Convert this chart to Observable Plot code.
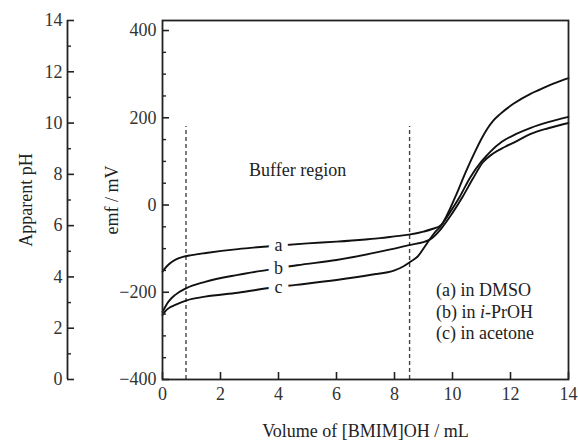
<!DOCTYPE html>
<html><head><meta charset="utf-8">
<script src="https://cdn.jsdelivr.net/npm/d3@7"></script>
<script src="https://cdn.jsdelivr.net/npm/@observablehq/plot@0.6"></script>
<style>body{margin:0;background:#fff} svg{font-family:"Liberation Serif",serif}</style>
</head><body><div id="chart"></div>
<script>
// Series (a) in DMSO
const aVol = [0, 0.1, 0.25, 0.45, 0.7, 1.0, 1.5, 2.6, 3.8, 5, 6, 7, 7.5, 8, 8.5, 9, 9.3, 9.6, 9.9, 10.25, 10.6, 11.0, 11.3, 11.7, 12.2, 12.7, 13.3, 14];
const aEmf = [-153, -144, -134, -125, -119, -115, -110, -101, -94, -88, -84, -79, -76, -72, -68, -61, -55, -46, -18, 19, 62, 100, 122, 145, 163, 177, 190, 202];
// Series (b) in i-PrOH
const bVol = [0, 0.2, 0.44, 0.81, 1.47, 2.6, 3.8, 4.64, 6, 7.5, 8.5, 9.2, 9.6, 10.0, 10.35, 10.7, 11.05, 11.4, 11.8, 12.2, 12.7, 13.3, 14];
const bEmf = [-245, -222, -206, -191, -176, -160, -147, -138, -126, -107, -92, -80, -55, -18, 19, 60, 98, 118, 133, 146, 163, 176, 188];
// Series (c) in acetone
const cVol = [0, 0.1, 0.25, 0.44, 0.81, 1.47, 2.6, 3.8, 4.6, 6, 7.2, 8.0, 8.3, 8.6, 8.8, 9.1, 9.4, 9.6, 10.1, 10.44, 10.79, 11.0, 11.2, 11.4, 11.65, 12.1, 12.69, 13.03, 13.5, 14];
const cEmf = [-252, -243, -235, -229, -219, -210, -201, -189, -183, -172, -160, -150, -141, -128, -118, -90, -62, -48, 19, 73, 124, 152, 175, 193, 209, 232, 255, 265, 279, 291];

const seriesNames = ["a", "b", "c"];
const labelVol = [4, 4, 4];
const labelEmf = [-93, -146, -189];

const volTicks = [0, 2, 4, 6, 8, 10, 12, 14];
const emfMajor = [-400, -200, 0, 200, 400];
const emfMinor = [-350, -300, -250, -150, -100, -50, 50, 100, 150, 250, 300, 350];
const phMajor = [0, 2, 4, 6, 8, 10, 12, 14];
const phMinor = [1, 3, 5, 7, 9, 11, 13];
const emfMin = -400, emfMax = 423, phMax = 14;

const bufferVol = [0.81, 8.52];
const bufferTop = 180;
const bufferText = ["Buffer region"];
const bufferPos = {v: 4.66, e: 80};

const legendLines = ["(a) in DMSO", "(b) in i-PrOH", "(c) in acetone"];
const legendVol = 9.43;
const legendEmf = [-196, -246, -294];

const xTitle = "Volume of [BMIM]OH / mL";
const yTitle = "emf / mV";
const phTitle = "Apparent pH";

const toEmf = p => emfMin + p * (emfMax - emfMin) / phMax;
const toPh = e => Math.round((e - emfMin) * phMax / (emfMax - emfMin));

const rows = [];
[[aVol, aEmf], [bVol, bEmf], [cVol, cEmf]].forEach(([vs, es], i) => {
  vs.forEach((v, j) => rows.push({s: seriesNames[i], v, e: es[j]}));
});
const labelRows = seriesNames.map((s, i) => ({s, v: labelVol[i], e: labelEmf[i]}));
const legendRows = legendLines.map((t, i) => ({t, v: legendVol, e: legendEmf[i]}));

const ink = "#222";
const chart = Plot.plot({
  width: 578, height: 440,
  marginLeft: 162, marginRight: 10, marginTop: 20, marginBottom: 61,
  x: {domain: [0, 14], label: null},
  y: {domain: [emfMin, emfMax], label: null},
  style: {fontFamily: "Liberation Serif, serif", fontSize: "18px", color: ink, background: "#fff"},
  marks: [
    Plot.ruleX(bufferVol, {y1: emfMin, y2: bufferTop, stroke: "#444", strokeDasharray: "4,3", strokeWidth: 1.4}),
    Plot.line(rows, {x: "v", y: "e", z: "s", curve: "monotone-x", stroke: "#111", strokeWidth: 1.9}),
    Plot.text(labelRows, {x: "v", y: "e", text: "s", fill: ink, stroke: "white", strokeWidth: 13, paintOrder: "stroke", fontSize: 18}),
    Plot.text(bufferText, {x: () => bufferPos.v, y: () => bufferPos.e, text: d => d, fill: ink, fontSize: 18}),
    Plot.text(legendRows, {x: "v", y: "e", text: "t", textAnchor: "start", fill: ink, fontSize: 18}),
    Plot.frame({stroke: ink, strokeWidth: 1.8}),
    Plot.axisX(volTicks, {anchor: "bottom", tickSize: 7, dy: -7, tickPadding: 8, label: null, stroke: ink, strokeWidth: 1.6, fill: "#333"}),
    Plot.axisY(emfMajor, {anchor: "left", tickSize: 7, dx: 7, tickPadding: 6, label: null, stroke: ink, strokeWidth: 1.6, fill: "#333"}),
    Plot.axisY(emfMinor, {anchor: "left", tickSize: 4, dx: 4, tickFormat: () => "", label: null, stroke: ink, strokeWidth: 1.4}),
    Plot.ruleX([0], {y1: emfMin, y2: emfMax, dx: -95, stroke: ink, strokeWidth: 1.8}),
    Plot.axisY(phMajor.map(toEmf), {anchor: "left", tickSize: 7, dx: -88, tickPadding: 5, tickFormat: toPh, label: null, stroke: ink, strokeWidth: 1.6, fill: "#333"}),
    Plot.axisY(phMinor.map(toEmf), {anchor: "left", tickSize: 4, dx: -91, tickFormat: () => "", label: null, stroke: ink, strokeWidth: 1.4}),
    Plot.text([yTitle], {frameAnchor: "left", textAnchor: "middle", rotate: -90, dx: -50, text: d => d, fill: ink, fontSize: 18}),
    Plot.text([phTitle], {frameAnchor: "left", textAnchor: "middle", rotate: -90, dx: -136, text: d => d, fill: ink, fontSize: 18}),
    Plot.text([xTitle], {frameAnchor: "bottom", dy: 57, text: d => d, fill: ink, fontSize: 18})
  ]
});
document.getElementById("chart").appendChild(chart);

// italicise the "i" in i-PrOH
d3.select(chart).selectAll("text").filter(function() { return this.textContent === "(b) in i-PrOH"; })
  .each(function() {
    const t = d3.select(this);
    t.text(null);
    t.append("tspan").text("(b) in ");
    t.append("tspan").attr("font-style", "italic").text("i");
    t.append("tspan").text("-PrOH");
  });
</script>
</body></html>
